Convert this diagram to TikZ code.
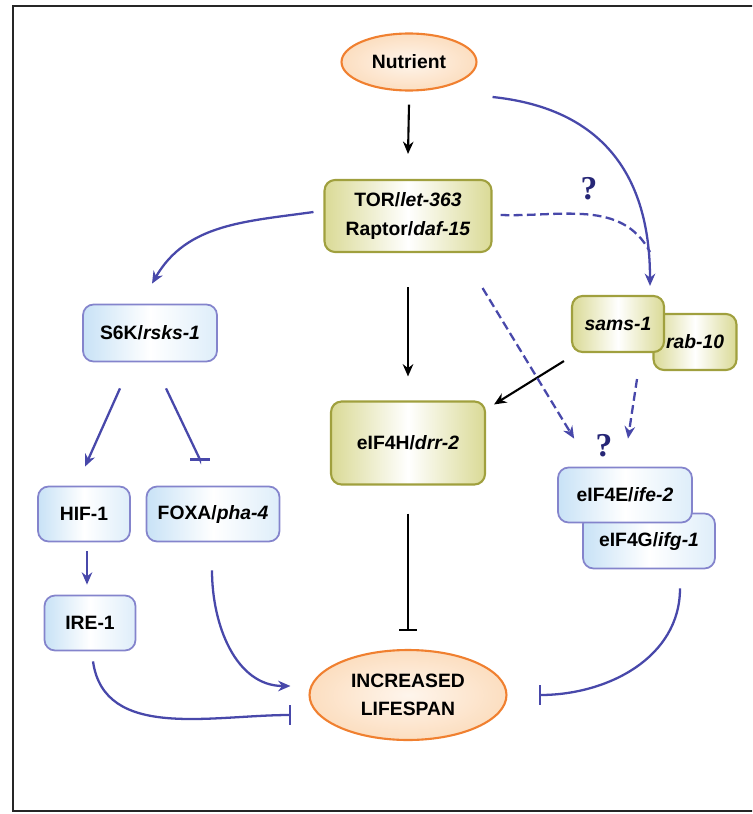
\documentclass[tikz,border=0pt]{standalone}
\usepackage{fontspec}
\setmainfont{Liberation Sans}
\newfontfamily\qmarkfont{Liberation Serif}
\usetikzlibrary{arrows.meta, shapes.geometric}

\definecolor{oliveedge}{RGB}{160,160,62}
\definecolor{olivefill}{RGB}{218,218,150}
\definecolor{boxedge}{RGB}{132,132,204}
\definecolor{boxfill}{RGB}{200,226,246}
\definecolor{ovaledge}{RGB}{240,128,48}
\definecolor{ovalfill}{RGB}{252,222,192}
\definecolor{pathblue}{RGB}{72,72,170}
\definecolor{qnavy}{RGB}{38,38,118}

\begin{document}
\begin{tikzpicture}[
    x=0.02cm, y=-0.02cm,
    lbl/.style={font=\fontsize{11}{16}\selectfont\bfseries, align=center, inner sep=2pt},
    oval/.style={lbl, ellipse, draw=ovaledge, line width=1.2pt,
                 inner color=ovalfill!30, outer color=ovalfill},
    olivebox/.style={lbl, draw=oliveedge, line width=1.2pt, rounded corners=6pt,
                     left color=olivefill, right color=olivefill, middle color=white},
    bluebox/.style={lbl, draw=boxedge, line width=1pt, rounded corners=6pt,
                    left color=boxfill, right color=boxfill!60, middle color=white,
                    minimum height=1.1cm},
    blackarr/.style={-{Stealth[length=7pt, width=6pt]}, line width=1.2pt, black},
    bluearr/.style={-{Stealth[length=7pt, width=6pt]}, line width=1.3pt, pathblue},
    dasharr/.style={bluearr, dash pattern=on 5pt off 2.5pt},
    blackbar/.style={-{Bar[width=10pt]}, line width=1.2pt, black},
    bluebar/.style={-{Bar[width=11pt]}, line width=1.3pt, pathblue},
    qmark/.style={font=\qmarkfont\bfseries\fontsize{19}{19}\selectfont, text=qnavy},
]

\useasboundingbox (0,0) rectangle (752,814);
\clip (0,0) rectangle (752,814);
\draw[line width=1.5pt, black!85] (13,6) rectangle (800,811);

% centre column
\node[oval, minimum width=2.7cm, minimum height=1.14cm] (nutrient) at (409,62) {Nutrient};
\node[olivebox, minimum width=3.34cm, minimum height=1.44cm] (tor) at (408,216)
    {TOR/\textit{let-363}\\Raptor/\textit{daf-15}};
\node[olivebox, minimum width=3.08cm, minimum height=1.66cm] (eif4h) at (408,443) {eIF4H/\textit{drr-2}};
\node[oval, minimum width=3.94cm, minimum height=1.8cm] (lifespan) at (408,695) {INCREASED\\LIFESPAN};

% left branch
\node[bluebox, minimum width=2.68cm, minimum height=1.14cm] (s6k) at (150,333) {S6K/\textit{rsks-1}};
\node[bluebox, minimum width=1.84cm] (hif) at (84,514) {HIF-1};
\node[bluebox, minimum width=2.66cm] (foxa) at (213,514) {FOXA/\textit{pha-4}};
\node[bluebox, minimum width=1.82cm] (ire) at (90,623) {IRE-1};

% right branch
\node[olivebox, minimum width=1.66cm, minimum height=1.12cm] (rab) at (695,342) {\textit{rab-10}};
\node[olivebox, minimum width=1.84cm, minimum height=1.12cm] (sams) at (618,324) {\textit{sams-1}};
\node[bluebox, minimum width=2.64cm] (eif4g) at (649,541) {eIF4G/\textit{ifg-1}};
\node[bluebox, minimum width=2.68cm] (eif4e) at (625,495) {eIF4E/\textit{ife-2}};

\node[qmark] (q1) at (589,189) {?};
\node[qmark] (q2) at (604,446) {?};
\coordinate (join) at (650,252);

% black links
\draw[blackarr] ([shift={(0,13)}]nutrient.south) -- ([shift={(0,-25)}]tor.north);
\draw[blackarr] ([shift={(0,34)}]tor.south) -- ([shift={(0,-24)}]eif4h.north);
\draw[blackbar] ([shift={(0,28)}]eif4h.south) -- ([shift={(0,-18)}]lifespan.north);
\draw[blackarr] ([shift={(-7,8)}]sams.south west) -- ([shift={(8,4)}]eif4h.north east);

% blue links
\draw[bluearr] ([shift={(15,35)}]nutrient.east) to[out=-6, in=90, looseness=1.15] ([shift={(32,-9)}]sams.north);
\draw[dasharr, -] ([shift={(8,-1)}]tor.east) to[out=-2, in=118] (join);
\draw[dasharr] ([shift={(-10,35)}]tor.south east) -- ([shift={(17,-28)}]eif4e.north west);
\draw[dasharr] ([shift={(19,26)}]sams.south) -- ([shift={(3,-28)}]eif4e.north);
\draw[bluearr] ([shift={(-10,-4)}]tor.west) to[out=188, in=60] ([shift={(2,-20)}]s6k.north);
\draw[bluearr] ([shift={(-30,26)}]s6k.south) -- ([shift={(1,-19)}]hif.north);
\draw[bluebar] ([shift={(16,26)}]s6k.south) -- ([shift={(-13,-26)}]foxa.north) -- ([shift={(-13,-25)}]foxa.north);
\draw[bluearr] ([shift={(3,9)}]hif.south) -- ([shift={(-3,-10)}]ire.north);
\draw[bluebar] ([shift={(3,10)}]ire.south) to[out=-82, in=180] ([shift={(-17,20)}]lifespan.west);
\draw[bluearr] ([shift={(-1,28)}]foxa.south) to[out=-90, in=180] ([shift={(-18,-9)}]lifespan.west);
\draw[bluebar] ([shift={(31,19)}]eif4g.south) to[out=-90, in=0] ([shift={(31,0)}]lifespan.east);

\end{tikzpicture}
\end{document}
